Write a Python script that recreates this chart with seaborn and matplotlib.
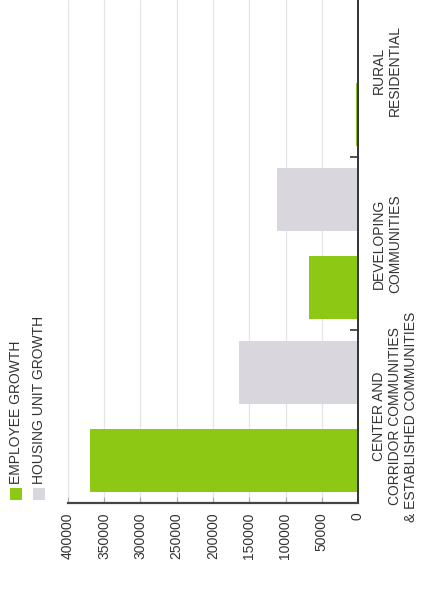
import matplotlib
matplotlib.use("Agg")
import matplotlib.pyplot as plt
import matplotlib.patches as mpatches
import seaborn as sns
import pandas as pd
import numpy as np

categories = ["CENTER AND\nCORRIDOR COMMUNITIES\n& ESTABLISHED COMMUNITIES",
              "DEVELOPING\nCOMMUNITIES",
              "RURAL\nRESIDENTIAL"]
series = ["EMPLOYEE GROWTH", "HOUSING UNIT GROWTH"]
employee_growth = [370000, 67000, 3000]
housing_growth = [164000, 112000, 300]
value_ticks = [0, 50000, 100000, 150000, 200000, 250000, 300000, 350000, 400000]
colors = ["#8cc814", "#d9d6dd"]

df = pd.DataFrame({
    "category": categories * 2,
    "series": [series[0]] * 3 + [series[1]] * 3,
    "value": employee_growth + housing_growth,
})

sns.set_style("white")
plt.rcParams["font.family"] = ["Liberation Sans", "DejaVu Sans"]

W, H = 422, 591
fig = plt.figure(figsize=(W / 100, H / 100), dpi=100)
ax = fig.add_axes([68 / W, 1 - 503 / H, 290 / W, 503 / H])

sns.barplot(data=df, x="value", y="category", hue="series", order=categories,
            hue_order=series, palette=colors, orient="h", width=1.02, gap=0.29,
            saturation=1, errorbar=None, ax=ax, legend=False, linewidth=0)

ax.set_xlim(400000, 0)
ax.set_ylim(-0.5, 2.407)
ax.set_xlabel("")
ax.set_ylabel("")

# value axis (appears at bottom, rotated)
ax.set_xticks(value_ticks)
ax.set_xticklabels([str(v) for v in value_ticks], rotation=90, fontsize=10, color="#333333")
ax.tick_params(axis="x", direction="in", length=4, color="#aaaaaa", pad=7,
               bottom=True, top=False)
ax.xaxis.grid(True, color="#e4e4e4", linewidth=0.9)
ax.set_axisbelow(True)

# category axis (appears at right)
ax.set_yticks([0, 1, 2])
ax.set_yticklabels(categories, rotation=90, fontsize=10, color="#333333",
                   va="center", ha="left", multialignment="center")
ax.set_yticks([0.5, 1.5], minor=True)
ax.tick_params(axis="y", which="major", length=0, left=False, right=True,
               labelleft=False, labelright=True, pad=10)
ax.tick_params(axis="y", which="minor", direction="in", length=6, width=1.2,
               color="#333333", left=False, right=True)

for s in ["top", "left"]:
    ax.spines[s].set_visible(False)
ax.spines["right"].set_color("#333333")
ax.spines["right"].set_linewidth(1.4)
ax.spines["bottom"].set_color("#444444")
ax.spines["bottom"].set_linewidth(1.6)

# legend (rotated, bottom-left)
for i, (name, col) in enumerate(zip(series, colors)):
    xc = 16 + 23 * i
    fig.add_artist(mpatches.Rectangle(((xc - 6) / W, 1 - 500 / H), 12 / W, 12 / H,
                                      transform=fig.transFigure, color=col, lw=0))
    fig.text(xc / W, 1 - 484 / H, name, rotation=90, ha="center", va="bottom",
             fontsize=10, color="#333333")

fig.savefig("out.png", dpi=100)
